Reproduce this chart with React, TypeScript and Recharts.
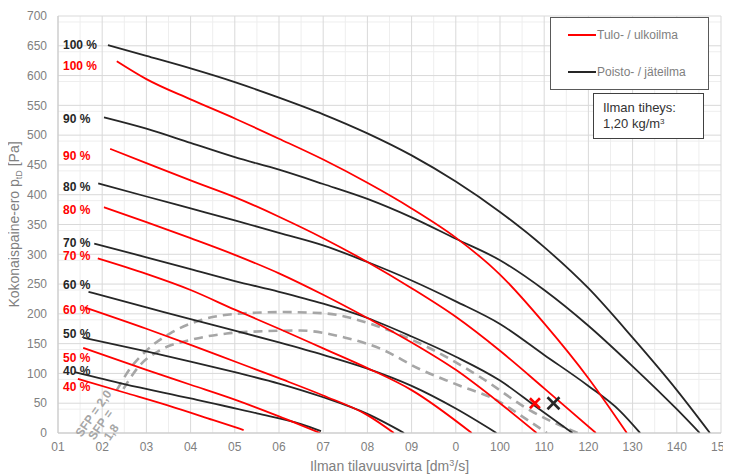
import React from 'react';
import { ComposedChart, Line, Scatter, XAxis, YAxis, CartesianGrid, ReferenceDot } from 'recharts';

// ---------- axis ticks ----------
const xTicks = [0, 10, 20, 30, 40, 50, 60, 70, 80, 90, 100, 110, 120, 130, 140, 150];
const xTickLabels = ['01', '02', '03', '04', '05', '06', '07', '08', '09', '0', '100', '110', '120', '130', '140', '150'];
const yTicks = [0, 50, 100, 150, 200, 250, 300, 350, 400, 450, 500, 550, 600, 650, 700];
const xMinor = [5, 15, 25, 35, 45, 55, 65, 75, 85, 95, 105, 115, 125, 135, 145];
const yMinor = Array.from({ length: 71 }, (_, i) => i * 10).filter((v) => v % 50 !== 0);

// ---------- supply air (Tulo- / ulkoilma), red ----------
const supply100 = [[13.3, 624], [20, 594], [30, 560], [40, 528], [50, 494], [60, 459], [70, 420], [80, 377], [90, 328], [100, 266], [110, 184], [120, 92], [128.7, 0]];
const supply90 = [[11.8, 477], [20, 453], [30, 424], [40, 396], [50, 363], [60, 327], [70, 287], [80, 243], [90, 195], [100, 138], [110, 75], [121.7, 0]];
const supply80 = [[10.4, 379], [20, 354], [30, 327], [40, 299], [50, 268], [60, 232], [70, 193], [80, 152], [90, 106], [100, 50], [108.3, 0]];
const supply70 = [[9, 293], [20, 267], [30, 240], [40, 207], [50, 175], [60, 142], [70, 109], [80, 72], [93.6, 0]];
const supply60 = [[6, 211], [20, 175], [30, 148], [40, 120], [50, 92], [60, 63], [70, 30], [76, 0]];
const supply50 = [[5.7, 143], [20, 106], [30, 81], [40, 56], [50, 28], [59.3, 0]];
const supply40 = [[4.5, 91], [15, 68], [25, 46], [35, 22], [42, 5]];

// ---------- exhaust air (Poisto- / jäteilma), black ----------
const exhaust100 = [[11.3, 651], [20, 633], [30, 612], [40, 589], [50, 563], [60, 535], [70, 503], [80, 466], [90, 422], [100, 371], [110, 312], [120, 243], [130, 160], [140, 72], [147.5, 0]];
const exhaust90 = [[10.4, 530], [20, 511], [30, 487], [40, 463], [50, 442], [60, 418], [70, 393], [80, 362], [90, 326], [100, 290], [110, 240], [120, 180], [130, 112], [140, 40], [145.2, 0]];
const exhaust80 = [[9.1, 419], [20, 397], [30, 377], [40, 357], [50, 336], [60, 315], [70, 287], [80, 256], [90, 221], [100, 183], [110, 131], [120, 79], [127, 38], [131.7, 0]];
const exhaust70 = [[8.2, 318], [20, 295], [30, 275], [40, 255], [50, 237], [60, 217], [70, 193], [80, 162], [90, 128], [100, 88], [108, 45], [116.4, 0]];
const exhaust60 = [[6.9, 237], [20, 211], [30, 191], [40, 172], [50, 152], [60, 131], [70, 108], [80, 79], [90, 41], [99.2, 0]];
const exhaust50 = [[5.7, 160], [20, 137], [30, 120], [40, 102], [50, 83], [60, 60], [70, 32], [78.3, 0]];
const exhaust40 = [[3.8, 102], [15, 82], [30, 58], [45, 33], [55, 15], [59.5, 3]];

// ---------- SFP curves (grey dashed) ----------
const sfp20 = [[13.3, 72], [16.3, 108], [20.1, 139], [25.3, 167], [32.1, 189], [40.4, 200], [51, 203], [60, 201], [72.8, 178], [82, 150], [95.5, 94], [106.8, 38], [117.6, 0]];
const sfp18 = [[14.8, 74], [18.2, 111], [23.1, 139], [29.9, 156], [38.2, 167], [47.2, 171], [54.8, 172], [65, 160], [72.8, 142], [81.9, 107], [90, 82], [100, 52], [105, 28], [110.6, 0]];

// ---------- operating points ----------
const supplyPoint = [[107.9, 50]];
const exhaustPoint = [[112.1, 50]];

// ---------- curve labels ----------
const exhaustLabelText = ['100 %', '90 %', '80 %', '70 %', '60 %', '50 %', '40 %'];
const exhaustLabelY = [651, 528, 414, 320, 248, 167, 105];
const supplyLabelText = ['100 %', '90 %', '80 %', '70 %', '60 %', '50 %', '40 %'];
const supplyLabelY = [616, 466, 375, 297, 206, 127, 77];

const sfpLabels = [
  { x: 8.0, y: 33, lines: ['SFP = 2,0'] },
  { x: 9.6, y: 14, lines: ['SFP =', '1,8'] },
];

const RED = '#ff0000';
const BLACK = '#262626';
const GREY_TEXT = '#808080';
const FONT = 'Liberation Sans, Arial, sans-serif';

const toPts = (arr: number[][]) => arr.map(([x, y]) => ({ x, y }));

const supplyCurves = [supply100, supply90, supply80, supply70, supply60, supply50, supply40];
const exhaustCurves = [exhaust100, exhaust90, exhaust80, exhaust70, exhaust60, exhaust50, exhaust40];

const getVB = (p: any) => p.viewBox || p;

const PctLabel = (props: any) => {
  const vb = getVB(props);
  return (
    <text x={vb.x + 5} y={vb.y} dy="0.35em" fill={props.color} fontSize={12} fontWeight="bold" fontFamily={FONT}>
      {props.text}
    </text>
  );
};

const SfpLabel = (props: any) => {
  const vb = getVB(props);
  const cx = vb.x;
  const cy = vb.y;
  return (
    <g transform={`rotate(-55, ${cx}, ${cy})`}>
      {props.lines.map((l: string, i: number) => (
        <text key={i} x={cx} y={cy + i * 13} dy="0.35em" textAnchor="middle" fill="#a6a6a6" fontSize={12} fontWeight="bold" fontFamily={FONT}>
          {l}
        </text>
      ))}
    </g>
  );
};

const XTitle = (props: any) => {
  const vb = getVB(props);
  return (
    <text x={vb.x + vb.width / 2} y={vb.y + 38} textAnchor="middle" fill={GREY_TEXT} fontSize={14} fontFamily={FONT}>
      Ilman tilavuusvirta [dm<tspan dy={-5} fontSize={9}>3</tspan><tspan dy={5}>/s]</tspan>
    </text>
  );
};

const YTitle = (props: any) => {
  const vb = getVB(props);
  const cx = 19;
  const cy = vb.y + vb.height / 2;
  return (
    <text x={cx} y={cy} textAnchor="middle" transform={`rotate(-90, ${cx}, ${cy})`} fill={GREY_TEXT} fontSize={14} fontFamily={FONT}>
      Kokonaispaine-ero p<tspan dy={3} fontSize={9}>tD</tspan><tspan dy={-3}> [Pa]</tspan>
    </text>
  );
};

const Cross = (color: string, size: number) => (props: any) => {
  const { cx, cy } = props;
  if (cx == null || cy == null) return null;
  return (
    <g stroke={color} strokeWidth={2.6}>
      <line x1={cx - size} y1={cy - size} x2={cx + size} y2={cy + size} />
      <line x1={cx - size} y1={cy + size} x2={cx + size} y2={cy - size} />
    </g>
  );
};

export default function App() {
  return (
    <div style={{ position: 'relative', left: -8, top: -8, width: 731, height: 476, background: '#fff' }}>
      <ComposedChart width={731} height={476} margin={{ top: 16, right: 10, left: 0, bottom: 13 }}>
        <CartesianGrid stroke="#eeeeee" horizontalValues={yMinor} verticalValues={xMinor} />
        <CartesianGrid stroke="#d9d9d9" horizontalValues={yTicks} verticalValues={xTicks} />
        <XAxis
          type="number"
          dataKey="x"
          domain={[0, 150]}
          ticks={xTicks}
          allowDataOverflow
          height={30}
          tickLine={false}
          tickMargin={3}
          axisLine={{ stroke: '#c8c8c8' }}
          tick={{ fill: GREY_TEXT, fontSize: 12, fontFamily: FONT }}
          tickFormatter={(v: number) => xTickLabels[xTicks.indexOf(v)] ?? String(v)}
          label={(p: any) => <XTitle {...p} />}
        />
        <YAxis
          type="number"
          dataKey="y"
          domain={[0, 700]}
          ticks={yTicks}
          allowDataOverflow
          width={58}
          tickLine={false}
          tickMargin={5}
          axisLine={{ stroke: '#c8c8c8' }}
          tick={{ fill: GREY_TEXT, fontSize: 12, fontFamily: FONT }}
          label={(p: any) => <YTitle {...p} />}
        />
        {[sfp20, sfp18].map((c, i) => (
          <Line
            key={`sfp${i}`}
            data={toPts(c)}
            dataKey="y"
            type="monotone"
            stroke="#a6a6a6"
            strokeWidth={2.6}
            strokeDasharray="9 6"
            dot={false}
            activeDot={false}
            isAnimationActive={false}
          />
        ))}
        {exhaustCurves.map((c, i) => (
          <Line
            key={`ex${i}`}
            data={toPts(c)}
            dataKey="y"
            type="monotone"
            stroke={BLACK}
            strokeWidth={1.8}
            dot={false}
            activeDot={false}
            isAnimationActive={false}
          />
        ))}
        {supplyCurves.map((c, i) => (
          <Line
            key={`su${i}`}
            data={toPts(c)}
            dataKey="y"
            type="monotone"
            stroke={RED}
            strokeWidth={1.8}
            dot={false}
            activeDot={false}
            isAnimationActive={false}
          />
        ))}
        <Scatter data={toPts(supplyPoint)} dataKey="y" shape={Cross(RED, 5)} isAnimationActive={false} />
        <Scatter data={toPts(exhaustPoint)} dataKey="y" shape={Cross(BLACK, 6)} isAnimationActive={false} />
        {exhaustLabelY.map((y, i) => (
          <ReferenceDot
            key={`el${i}`}
            x={0}
            y={y}
            r={0}
            fill="none"
            stroke="none"
            label={(p: any) => <PctLabel {...p} text={exhaustLabelText[i]} color={BLACK} />}
          />
        ))}
        {supplyLabelY.map((y, i) => (
          <ReferenceDot
            key={`sl${i}`}
            x={0}
            y={y}
            r={0}
            fill="none"
            stroke="none"
            label={(p: any) => <PctLabel {...p} text={supplyLabelText[i]} color={RED} />}
          />
        ))}
        {sfpLabels.map((s, i) => (
          <ReferenceDot
            key={`sfpl${i}`}
            x={s.x}
            y={s.y}
            r={0}
            fill="none"
            stroke="none"
            label={(p: any) => <SfpLabel {...p} lines={s.lines} />}
          />
        ))}
      </ComposedChart>
      <div
        style={{
          position: 'absolute',
          left: 550,
          top: 17,
          width: 159,
          height: 73,
          boxSizing: 'border-box',
          border: '1.5px solid #595959',
          background: '#fff',
          fontFamily: FONT,
          fontSize: 12,
          color: GREY_TEXT,
        }}
      >
        <div style={{ position: 'absolute', left: 17, top: 16, width: 28, height: 2, background: RED }} />
        <div style={{ position: 'absolute', left: 46, top: 9, lineHeight: '16px', whiteSpace: 'nowrap' }}>Tulo- / ulkoilma</div>
        <div style={{ position: 'absolute', left: 17, top: 53, width: 28, height: 2, background: BLACK }} />
        <div style={{ position: 'absolute', left: 46, top: 46, lineHeight: '16px', whiteSpace: 'nowrap' }}>Poisto- / jäteilma</div>
      </div>
      <div
        style={{
          position: 'absolute',
          left: 593,
          top: 93,
          width: 111,
          height: 46,
          boxSizing: 'border-box',
          border: '1.5px solid #404040',
          background: '#fff',
          fontFamily: FONT,
          fontSize: 13,
          color: '#333333',
          padding: '6px 0 0 9px',
          lineHeight: '16px',
        }}
      >
        <div>Ilman tiheys:</div>
        <div>
          1,20 kg/m<sup style={{ fontSize: 8, verticalAlign: 'top', position: 'relative', top: -2 }}>3</sup>
        </div>
      </div>
    </div>
  );
}
